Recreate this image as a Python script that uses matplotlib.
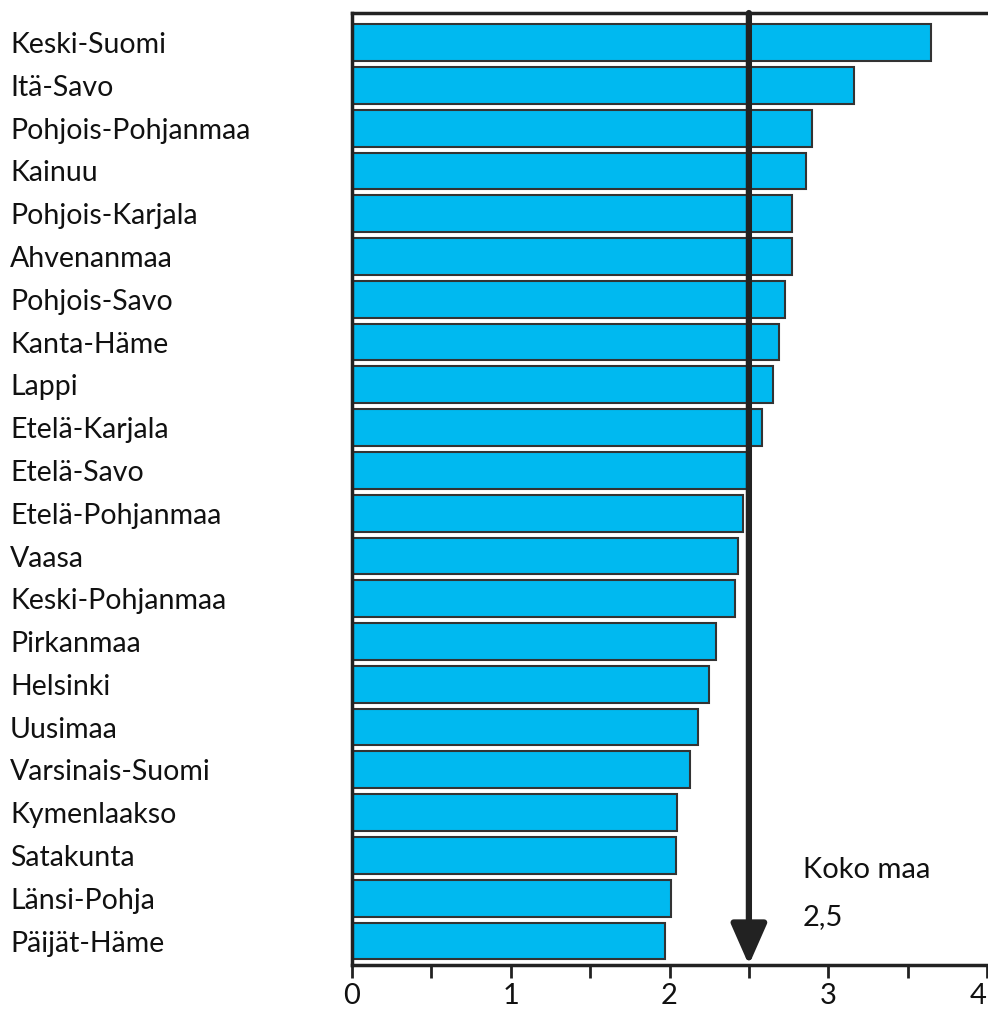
import matplotlib.pyplot as plt
from matplotlib.transforms import blended_transform_factory

regions = ['Keski-Suomi', 'Itä-Savo', 'Pohjois-Pohjanmaa', 'Kainuu', 'Pohjois-Karjala',
           'Ahvenanmaa', 'Pohjois-Savo', 'Kanta-Häme', 'Lappi', 'Etelä-Karjala',
           'Etelä-Savo', 'Etelä-Pohjanmaa', 'Vaasa', 'Keski-Pohjanmaa', 'Pirkanmaa',
           'Helsinki', 'Uusimaa', 'Varsinais-Suomi', 'Kymenlaakso', 'Satakunta',
           'Länsi-Pohja', 'Päijät-Häme']
values = [3.65, 3.16, 2.90, 2.86, 2.77, 2.77, 2.73, 2.69, 2.65, 2.58, 2.49,
          2.46, 2.43, 2.41, 2.29, 2.25, 2.18, 2.13, 2.05, 2.04, 2.01, 1.97]
national = 2.5
xticks = [0, 1, 2, 3, 4]

plt.rcParams['font.family'] = ['Lato', 'DejaVu Sans']
dark = '#222222'

fig = plt.figure(figsize=(9.88, 10.10), dpi=100)
ax = fig.add_axes([0.3563, 0.0446, 0.6427, 0.9425])

idx = list(range(len(regions)))
ax.barh(idx, values, height=0.86, color='#00B9F0', edgecolor='#333333', linewidth=1.5, zorder=2)

ax.set_xlim(0, 4)
ax.set_ylim(len(regions) - 1 + 0.56, -0.69)

ax.set_xticks(xticks)
ax.set_xticklabels([str(t) for t in xticks], fontsize=21, color='#111111')
ax.get_xticklabels()[-1].set_ha('right')
ax.set_xticks([0.5, 1.5, 2.5, 3.5], minor=True)
ax.tick_params(axis='x', which='both', direction='out', length=9, width=2, color=dark, pad=4)
ax.set_yticks([])

for s in ['left', 'top', 'bottom']:
    ax.spines[s].set_linewidth(2.5)
    ax.spines[s].set_color(dark)
ax.spines['right'].set_visible(False)

# region names at the left of the figure
tr = blended_transform_factory(fig.transFigure, ax.transData)
for i, name in enumerate(regions):
    ax.text(0.010, i + 0.06, name, transform=tr, ha='left', va='center', fontsize=20.5, color='#111111')

# national average arrow
ax.annotate('', xy=(national, len(regions) - 1 + 0.56), xycoords='data',
            xytext=(national, -0.69), textcoords='data',
            arrowprops=dict(arrowstyle='-|>,head_length=2.5,head_width=1.1', lw=4.5,
                            color=dark, shrinkA=0, shrinkB=0),
            zorder=5, annotation_clip=False)
ax.text(2.84, 19.35, 'Koko maa', fontsize=21, color='#111111', ha='left', va='center')
ax.text(2.84, 20.45, '2,5', fontsize=21, color='#111111', ha='left', va='center')

plt.savefig('out.png', dpi=100)
